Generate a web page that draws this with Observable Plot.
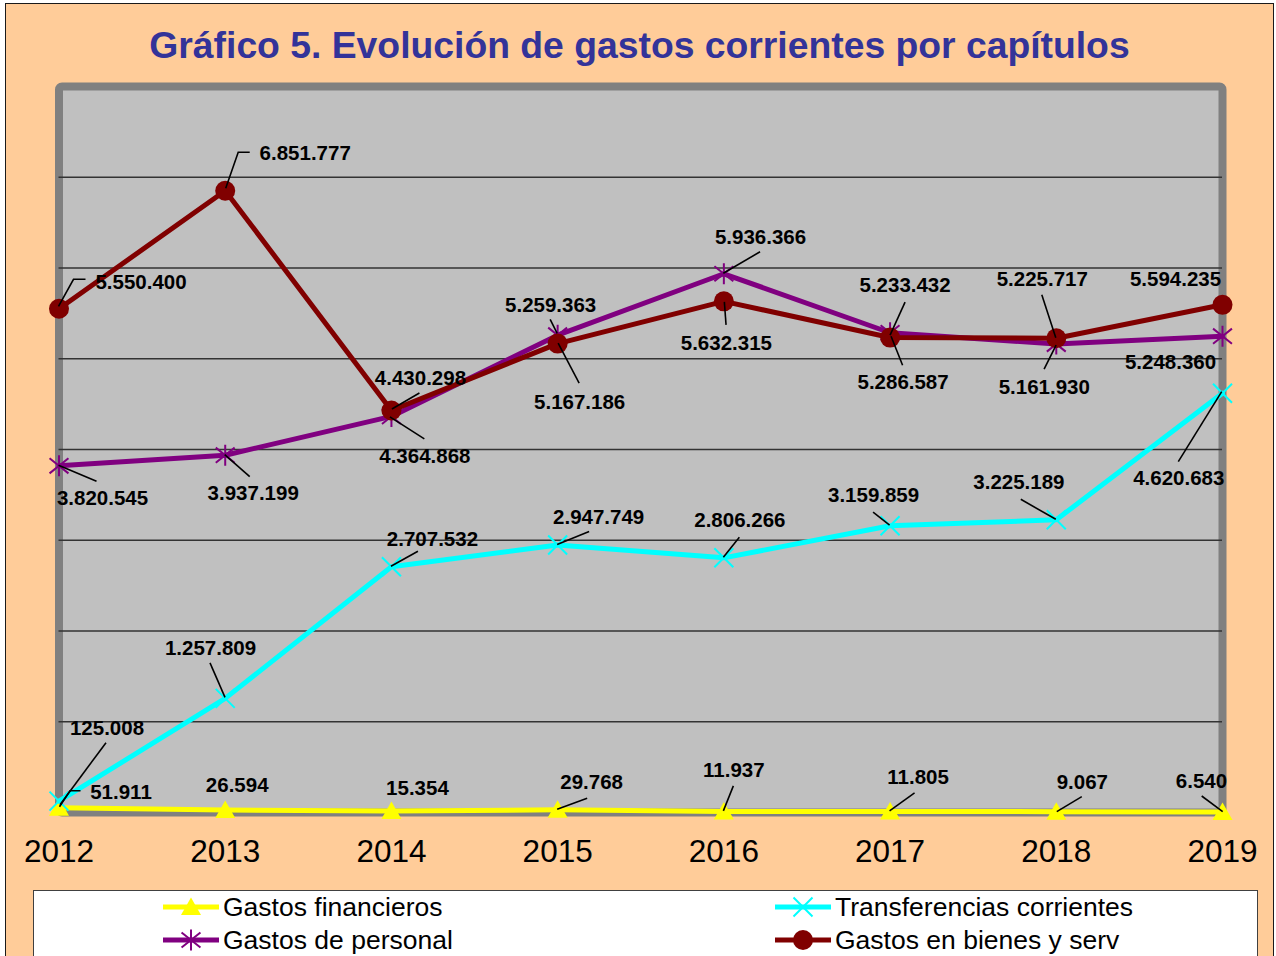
<!DOCTYPE html>
<html>
<head>
<meta charset="utf-8">
<script src="https://cdn.jsdelivr.net/npm/d3@7"></script>
<script src="https://cdn.jsdelivr.net/npm/@observablehq/plot@0.6"></script>
<style>
  html, body { margin: 0; padding: 0; background: #fff; width: 1276px; height: 956px; overflow: hidden;
    font-family: "Liberation Sans", Arial, sans-serif; }
  #bg { position: absolute; left: 5px; top: 3px; width: 1269px; height: 1000px; box-sizing: border-box;
    border: 1.5px solid #1a1a1a; background: #FFCC99; }
  #title { position: absolute; left: 0; top: 27px; width: 1279px; text-align: center; font-weight: bold;
    font-size: 37.3px; line-height: 37px; color: #333399; white-space: nowrap; }
  #chart { position: absolute; left: 0; top: 76px; }
  #legend { position: absolute; left: 33px; top: 890px; width: 1225px; height: 90px; box-sizing: border-box;
    background: #fff; border: 1px solid #404040; }
  .li { position: absolute; display: flex; align-items: center; height: 32px; font-size: 26.5px; color: #000; white-space: nowrap; }
  .li svg { display: block; margin-right: 4px; }
</style>
</head>
<body>
<div id="bg"></div>
<div id="title">Gráfico 5. Evolución de gastos corrientes por capítulos</div>
<div id="chart"></div>
<div id="legend"></div>
<script>
// ---------- data ----------
const years = [2012, 2013, 2014, 2015, 2016, 2017, 2018, 2019];
const financieros = [51911, 26594, 15354, 29768, 11937, 11805, 9067, 6540];
const transferencias = [125008, 1257809, 2707532, 2947749, 2806266, 3159859, 3225189, 4620683];
const personal = [3820545, 3937199, 4364868, 5259363, 5936366, 5286587, 5161930, 5248360];
const bienes = [5550400, 6851777, 4430298, 5167186, 5632315, 5233432, 5225717, 5594235];
const seriesNames = ["Gastos financieros", "Transferencias corrientes", "Gastos de personal", "Gastos en bienes y serv"];
const gridValues = [1000000, 2000000, 3000000, 4000000, 5000000, 6000000, 7000000];

// ---------- label layout (pixel offsets from each point) ----------
const finText = [[62,-15.6],[12,-24.6],[26,-22.6],[34,-27],[10,-41],[28,-34],[26,-29.5],[-21,-30.4]];
const finLead = [[[1,-0.6],[11.5,-16.6],[22,-16.6]], null, null, [[0,0],[30,-11]], [[0,0],[10,-25]], [[0,0],[25,-18]], [[26,-14.5],[1,0.5]], [[-20.3,-15.4],[0.7,0.3]]];
const traText = [[48,-73],[-14.7,-49.5],[41,-27],[41,-27.5],[16,-37],[-16.5,-30],[-37.4,-37.6],[-43.7,85.7]];
const traLead = [[[1.5,4],[47.5,-58]], [[-14.7,-35],[0.3,-0.5]], [[0,0],[27,-15]], [[0,0],[32,-13]], [[0,0],[16,-20]], [[-16.5,-13],[0,0]], [[-35,-20],[0,0]], [[-43.7,69],[-0.3,-1]]];
const perText = [[43.5,33],[28,38],[33.4,40],[-7,-30],[36.7,-36.5],[13,49.5],[-12,43],[-52,26]];
const perLead = [[[0,0],[38,16]], [[0,0],[25,22]], [[-1,1],[33.4,23]], [[-7,-15.4],[0,-1.4]], [[0,0],[36.7,-21.5]], [[13,33],[1.5,4]], [[-11.7,25.5],[0.3,1.5]], null];
const bieText = [[82,-26],[80,-37],[29,-32],[22,59],[2.5,42],[15,-52],[-14,-59],[-47,-25]];
const bieLead = [[[0,-2],[15,-29],[27,-29]], [[1,-2],[13.5,-38],[25,-38]], [[1,-1],[28.5,-17]], [[1,0],[22,40]], [[1,1],[2.7,24]], [[15.5,-35],[0.5,-2]], [[-14,-43],[0,0]], null];

// ---------- symbols ----------
const triSymbol = { draw(ctx, size) { const r = Math.sqrt(size / Math.PI);
  ctx.moveTo(0, -r * 0.95); ctx.lineTo(r, r * 0.8); ctx.lineTo(-r, r * 0.8); ctx.closePath(); } };
const starSymbol = { draw(ctx, size) { const r = Math.sqrt(size / Math.PI);
  ctx.moveTo(0, -r); ctx.lineTo(0, r);
  const a = r * 0.9, b = r * 0.72;
  ctx.moveTo(-a, -b); ctx.lineTo(a, b); ctx.moveTo(-a, b); ctx.lineTo(a, -b); } };
const timesSymbol = { draw(ctx, size) { const r = Math.sqrt(size / Math.PI);
  ctx.moveTo(-r, -r); ctx.lineTo(r, r); ctx.moveTo(-r, r); ctx.lineTo(r, -r); } };

const series = [
  { name: seriesNames[0], values: financieros, color: "#FFFF00", symbol: triSymbol, r: 10, filled: true, text: finText, lead: finLead },
  { name: seriesNames[1], values: transferencias, color: "#00FFFF", symbol: timesSymbol, r: 9.5, filled: false, text: traText, lead: traLead },
  { name: seriesNames[2], values: personal, color: "#800080", symbol: starSymbol, r: 10.5, filled: false, text: perText, lead: perLead },
  { name: seriesNames[3], values: bienes, color: "#800000", symbol: d3.symbolCircle, r: 10, filled: true, text: bieText, lead: bieLead }
];

const fmt = v => d3.format(",")(v).replace(/,/g, ".");
const rows = series.flatMap(s => years.map((year, i) => ({
  series: s.name, year, value: s.values[i], dx: s.text[i][0], dy: s.text[i][1], lead: s.lead[i]
})));

const seriesMarks = series.flatMap(s => {
  const data = rows.filter(d => d.series === s.name);
  return [
    Plot.line(data, { x: "year", y: "value", stroke: s.color, strokeWidth: 5, strokeLinejoin: "round" }),
    Plot.dot(data, s.filled
      ? { x: "year", y: "value", symbol: () => s.symbol, r: s.r, fill: s.color, stroke: "none" }
      : { x: "year", y: "value", symbol: () => s.symbol, r: s.r, fill: "none", stroke: s.color, strokeWidth: 2 })
  ];
});

function leaderMark(index, scales) {
  const g = d3.create("svg:g");
  for (const d of rows) {
    if (!d.lead) continue;
    const px = scales.x(d.year), py = scales.y(d.value);
    g.append("path")
      .attr("d", d3.line()(d.lead.map(([a, b]) => [px + a, py + b])))
      .attr("fill", "none").attr("stroke", "#000").attr("stroke-width", 1.6);
  }
  return g.node();
}

const labelMarks = rows.map(d => Plot.text([d], {
  x: "year", y: "value", text: r => fmt(r.value), dx: d.dx, dy: d.dy,
  fontSize: 20.5, fontWeight: "bold", fill: "#000"
}));

const plot = Plot.plot({
  width: 1276, height: 810,
  marginLeft: 58.5, marginRight: 54, marginTop: 10, marginBottom: 74,
  style: { background: "transparent", fontFamily: "'Liberation Sans', Arial, sans-serif", color: "#000", overflow: "visible" },
  x: { domain: [2012, 2019], label: null },
  y: { domain: [0, 8000000], axis: null },
  marks: [
    Plot.frame({ fill: "#C0C0C0", stroke: "#808080", strokeWidth: 8, rx: 3 }),
    Plot.ruleY(gridValues, { stroke: "#333", strokeWidth: 1.3 }),
    ...seriesMarks,
    leaderMark,
    ...labelMarks,
    Plot.axisX({ ticks: years, tickFormat: d => String(d), tickSize: 0, tickPadding: 27, fontSize: 31.5, label: null })
  ]
});
document.getElementById("chart").appendChild(plot);

// ---------- legend ----------
const legendPos = [[163, 906], [775, 906], [163, 939], [775, 939]];
const legend = d3.select("#legend");
series.forEach((s, i) => {
  const [lx, cy] = legendPos[i];
  const item = legend.append("div").attr("class", "li")
    .style("left", (lx - 34) + "px").style("top", (cy - 890 - 16) + "px");
  const svg = item.append("svg").attr("width", 56).attr("height", 24);
  svg.append("line").attr("x1", 0).attr("x2", 56).attr("y1", 12).attr("y2", 12)
    .attr("stroke", s.color).attr("stroke-width", 5);
  const size = Math.PI * s.r * s.r;
  const p = svg.append("path").attr("transform", "translate(28,12)")
    .attr("d", d3.symbol(s.symbol, size)());
  if (s.filled) p.attr("fill", s.color);
  else p.attr("fill", "none").attr("stroke", s.color).attr("stroke-width", 2);
  item.append("span").text(s.name);
});
</script>
</body>
</html>
